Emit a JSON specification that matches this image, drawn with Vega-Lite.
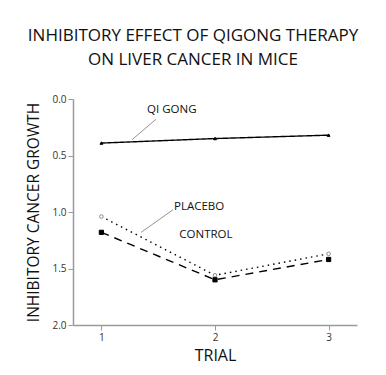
{
  "$schema": "https://vega.github.io/schema/vega-lite/v6.json",
  "autosize": "none",
  "padding": {"left": 73, "top": 99, "right": 29, "bottom": 50},
  "width": 284,
  "height": 226,
  "background": "white",
  "title": {
    "text": ["INHIBITORY EFFECT OF QIGONG THERAPY", "ON LIVER CANCER IN MICE"],
    "font": "Open Sans",
    "fontSize": 17,
    "fontWeight": "normal",
    "color": "#111",
    "lineHeight": 24,
    "anchor": "middle",
    "dx": -22,
    "offset": 25
  },
  "datasets": {
    "series": [
      {"series": "QI GONG", "trial": 1, "value": 0.39},
      {"series": "QI GONG", "trial": 2, "value": 0.35},
      {"series": "QI GONG", "trial": 3, "value": 0.32},
      {"series": "PLACEBO", "trial": 1, "value": 1.04},
      {"series": "PLACEBO", "trial": 2, "value": 1.56},
      {"series": "PLACEBO", "trial": 3, "value": 1.37},
      {"series": "CONTROL", "trial": 1, "value": 1.18},
      {"series": "CONTROL", "trial": 2, "value": 1.6},
      {"series": "CONTROL", "trial": 3, "value": 1.42}
    ],
    "labels": [
      {"label": "QI GONG", "x": 1.62, "y": 0.1},
      {"label": "PLACEBO", "x": 1.86, "y": 0.96},
      {"label": "CONTROL", "x": 1.92, "y": 1.2}
    ],
    "leaders": [
      {"label": "QI GONG", "x1": 1.48, "y1": 0.18, "x2": 1.27, "y2": 0.36},
      {"label": "PLACEBO", "x1": 1.63, "y1": 0.98, "x2": 1.35, "y2": 1.18}
    ]
  },
  "config": {
    "view": {"stroke": null},
    "axis": {
      "grid": false,
      "domainColor": "#9a9a9a",
      "tickColor": "#9a9a9a",
      "domainWidth": 1.5,
      "tickSize": 5,
      "labelColor": "#333",
      "labelFont": "Open Sans",
      "labelFontSize": 10,
      "titleFont": "Open Sans",
      "titleFontSize": 16,
      "titleFontWeight": "normal",
      "titleColor": "#111"
    }
  },
  "layer": [
    {
      "data": {"name": "series"},
      "mark": {"type": "line", "color": "black", "strokeWidth": 1.4},
      "encoding": {
        "x": {
          "field": "trial", "type": "quantitative",
          "scale": {"domain": [0.75, 3.25], "nice": false, "zero": false},
          "axis": {"values": [1, 2, 3], "format": "d", "title": "TRIAL", "titlePadding": 5}
        },
        "y": {
          "field": "value", "type": "quantitative",
          "scale": {"domain": [0, 2], "reverse": true, "nice": false},
          "axis": {"values": [0, 0.5, 1, 1.5, 2], "format": ".1f", "title": "INHIBITORY CANCER GROWTH", "titlePadding": 10, "titleFontSize": 15.5}
        },
        "detail": {"field": "series"},
        "strokeDash": {
          "field": "series", "type": "nominal",
          "scale": {"domain": ["QI GONG", "PLACEBO", "CONTROL"], "range": [[1, 0], [1.5, 4], [8, 6]]},
          "legend": null
        }
      }
    },
    {
      "data": {"name": "series"},
      "mark": {"type": "point", "filled": false, "strokeWidth": 1, "opacity": 1},
      "encoding": {
        "x": {"field": "trial", "type": "quantitative"},
        "y": {"field": "value", "type": "quantitative"},
        "shape": {
          "field": "series", "type": "nominal",
          "scale": {"domain": ["QI GONG", "PLACEBO", "CONTROL"], "range": ["triangle-up", "circle", "square"]},
          "legend": null
        },
        "fill": {
          "field": "series", "type": "nominal",
          "scale": {"domain": ["QI GONG", "PLACEBO", "CONTROL"], "range": ["black", "white", "black"]},
          "legend": null
        },
        "stroke": {
          "field": "series", "type": "nominal",
          "scale": {"domain": ["QI GONG", "PLACEBO", "CONTROL"], "range": ["black", "#888", "black"]},
          "legend": null
        },
        "size": {
          "field": "series", "type": "nominal",
          "scale": {"domain": ["QI GONG", "PLACEBO", "CONTROL"], "range": [8, 18, 16]},
          "legend": null
        }
      }
    },
    {
      "data": {"name": "leaders"},
      "mark": {"type": "rule", "color": "#777", "strokeWidth": 0.8},
      "encoding": {
        "x": {"field": "x1", "type": "quantitative"},
        "y": {"field": "y1", "type": "quantitative"},
        "x2": {"field": "x2"},
        "y2": {"field": "y2"}
      }
    },
    {
      "data": {"name": "labels"},
      "mark": {"type": "text", "font": "Open Sans", "fontSize": 11.5, "color": "#111"},
      "encoding": {
        "x": {"field": "x", "type": "quantitative"},
        "y": {"field": "y", "type": "quantitative"},
        "text": {"field": "label"}
      }
    }
  ]
}
